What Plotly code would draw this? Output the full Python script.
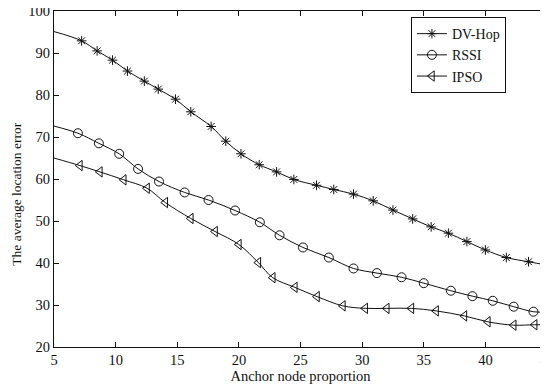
import plotly.graph_objects as go

# DV-Hop
dv_x = [5, 7.24, 8.5, 9.75, 10.96, 12.33, 13.46, 14.86, 16.1, 17.75, 18.94, 20.17, 21.65, 23.06,
        24.46, 26.3, 27.7, 29.3, 30.9, 32.5, 34.1, 35.6, 37.0, 38.5, 40.0, 41.7, 43.5, 45]
dv_y = [95.1, 92.9, 90.5, 88.3, 85.7, 83.3, 81.4, 79.0, 76.0, 72.5, 69.0, 66.0, 63.4, 61.7,
        59.9, 58.5, 57.5, 56.4, 54.8, 52.6, 50.5, 48.6, 47.1, 45.1, 43.1, 41.3, 40.3, 39.5]
# RSSI
rs_x = [5, 6.94, 8.64, 10.29, 11.82, 13.52, 15.6, 17.54, 19.69, 21.7, 23.3, 25.2, 27.3, 29.3,
        31.2, 33.2, 35.0, 37.2, 38.95, 40.6, 42.3, 43.9, 45]
rs_y = [72.6, 70.9, 68.5, 66.0, 62.4, 59.4, 56.8, 55.0, 52.5, 49.7, 46.6, 43.7, 41.3, 38.7,
        37.6, 36.6, 35.2, 33.4, 32.1, 31.0, 29.6, 28.4, 28.3]
# IPSO
ip_x = [5, 7.1, 8.72, 10.66, 12.55, 14.03, 16.1, 18.07, 20.0, 21.58, 22.75, 24.54, 26.34, 28.44,
        30.25, 32.0, 34.0, 36.0, 38.3, 40.2, 42.3, 44.0, 45]
ip_y = [65.0, 63.2, 61.7, 59.8, 57.8, 54.4, 50.6, 47.5, 44.4, 40.1, 36.5, 34.2, 32.0, 29.8,
        29.2, 29.2, 29.2, 28.6, 27.4, 26.0, 25.2, 25.3, 25.3]

x_ticks = [5, 10, 15, 20, 25, 30, 35, 40, 45]
y_ticks = [20, 30, 40, 50, 60, 70, 80, 90, 100]

series = [
    ("DV-Hop", dv_x, dv_y, "asterisk-open", 8),
    ("RSSI", rs_x, rs_y, "circle-open", 9),
    ("IPSO", ip_x, ip_y, "triangle-left-open", 9),
]

FONT = "Liberation Serif, Times New Roman, serif"
fig = go.Figure()
for name, xs, ys, sym, sz in series:
    fig.add_trace(go.Scatter(x=xs, y=ys, mode="lines", line=dict(color="#111", width=1, shape="spline"),
                             showlegend=False, hoverinfo="skip"))
    fig.add_trace(go.Scatter(x=xs[1:-1], y=ys[1:-1], mode="markers",
                             marker=dict(symbol=sym, size=sz, color="#111", line=dict(color="#111", width=1)),
                             showlegend=False, hoverinfo="skip"))
    fig.add_trace(go.Scatter(x=[None], y=[None], mode="lines+markers", name=name,
                             line=dict(color="#111", width=1),
                             marker=dict(symbol=sym, size=sz, color="#111", line=dict(color="#111", width=1))))

axis_common = dict(showline=True, linecolor="#111", linewidth=1, mirror="ticks", ticks="inside",
                   ticklen=5, tickcolor="#111", showgrid=False, zeroline=False, automargin=False,
                   ticklabeloverflow="allow",
                   tickfont=dict(family=FONT, size=14.5, color="#111"))
fig.update_layout(
    width=540, height=377,
    margin=dict(l=46, r=1, t=3, b=38),
    paper_bgcolor="white", plot_bgcolor="white",
    font=dict(family=FONT, color="#111"),
    xaxis=dict(range=[5, 45], tickvals=x_ticks, title=dict(text="Anchor node proportion", font=dict(family=FONT, size=14.5), standoff=3), **axis_common),
    yaxis=dict(range=[20, 100], tickvals=y_ticks, **axis_common),
    legend=dict(x=0.724, y=0.982, xanchor="left", yanchor="top", bordercolor="#111", borderwidth=1,
                bgcolor="white", font=dict(family=FONT, size=14), tracegroupgap=0),
    annotations=[dict(text="The average location error", textangle=-90, xref="paper", yref="paper",
                      x=-0.076, y=0.455, xanchor="center", yanchor="middle", showarrow=False,
                      font=dict(family=FONT, size=13.5, color="#111"))],
)
fig.write_html("out.html")
